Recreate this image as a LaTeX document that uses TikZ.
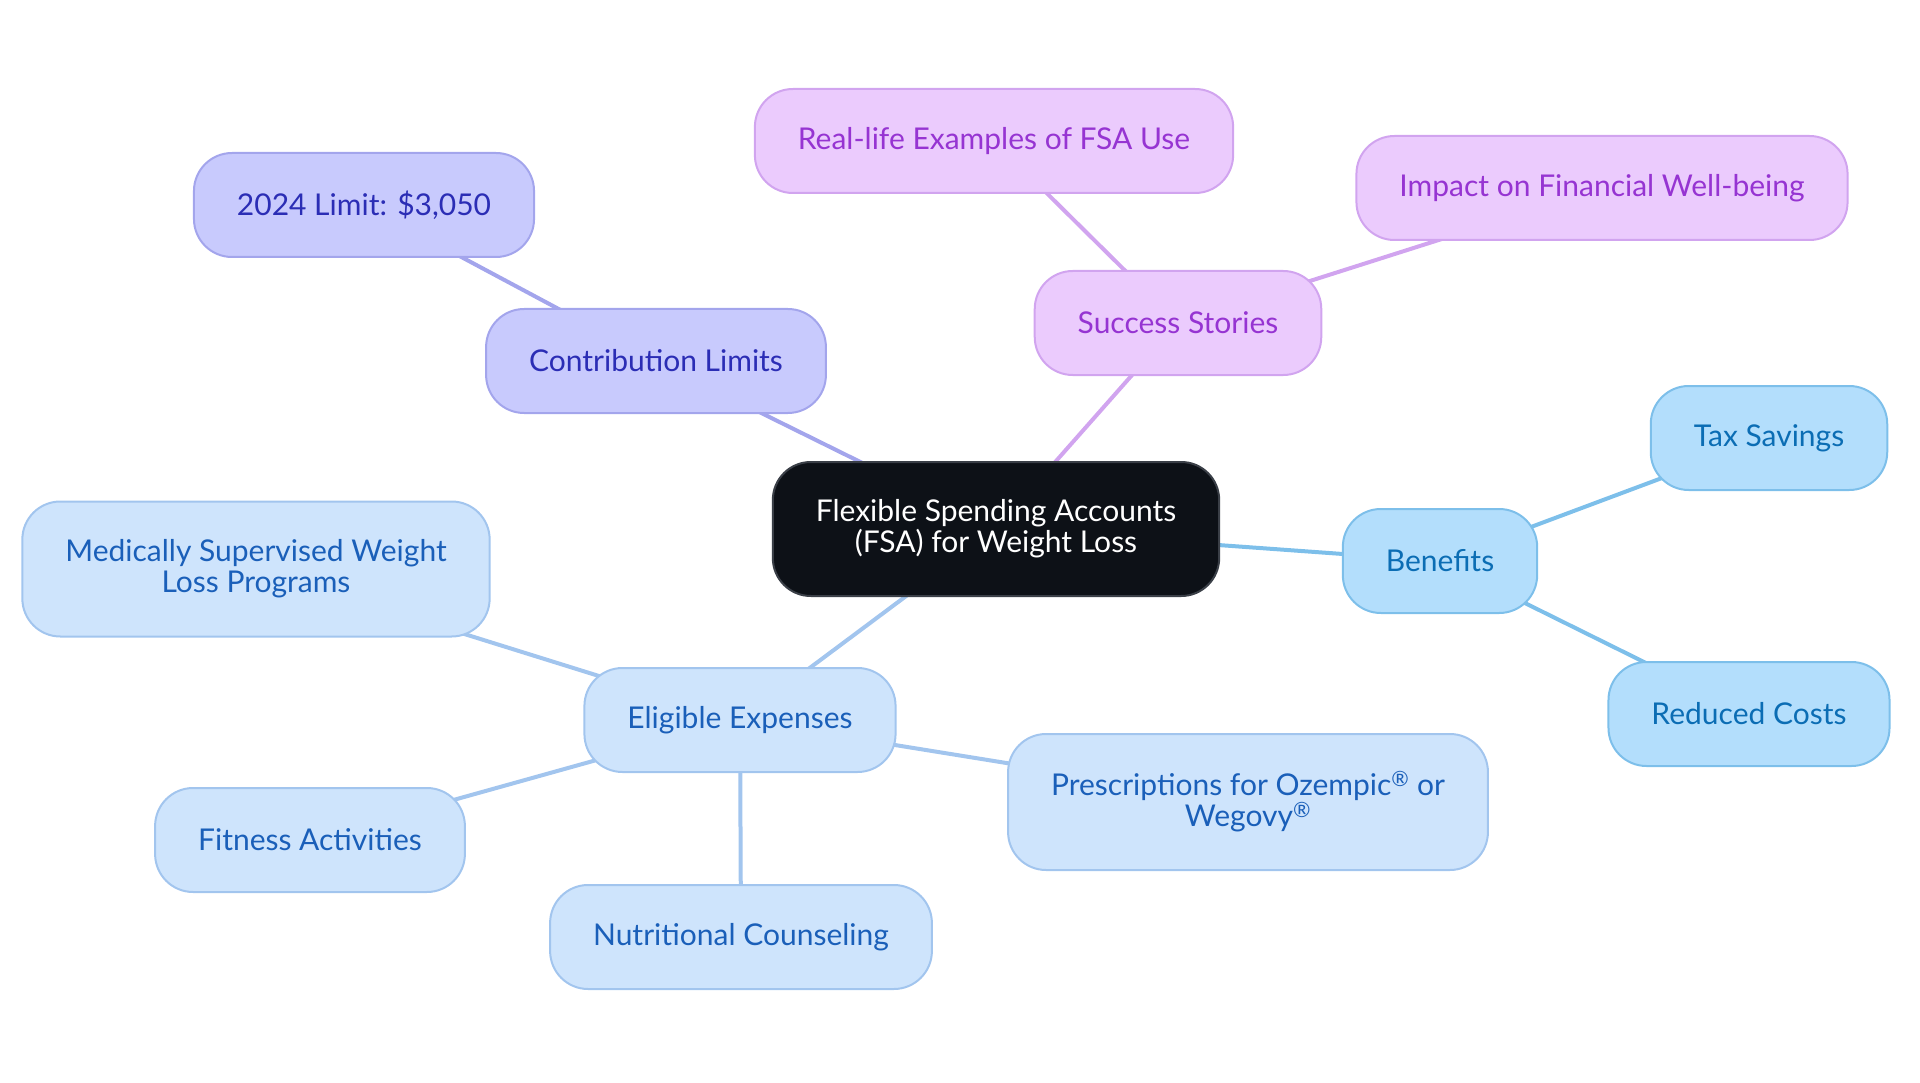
\documentclass[tikz,border=0pt]{standalone}
\usepackage{fontspec}
\setmainfont{Lato}
\usetikzlibrary{backgrounds}

\definecolor{rootfill}{HTML}{0D1117}
\definecolor{rootline}{HTML}{3A3F47}
\definecolor{limfill}{HTML}{C8CAFD}
\definecolor{limline}{HTML}{A3A5EC}
\definecolor{limtext}{HTML}{2B2DB5}
\definecolor{storyfill}{HTML}{EBCBFD}
\definecolor{storyline}{HTML}{D1A4EF}
\definecolor{storytext}{HTML}{9634D2}
\definecolor{benfill}{HTML}{B3DEFC}
\definecolor{benline}{HTML}{7DBFEA}
\definecolor{bentext}{HTML}{0B6DB4}
\definecolor{expfill}{HTML}{CEE4FC}
\definecolor{expline}{HTML}{A2C5EE}
\definecolor{exptext}{HTML}{1A5FB9}

\tikzset{
  box/.style={rounded corners=38pt, line width=2pt, inner xsep=43pt, minimum height=104pt,
    align=center, font=\fontsize{30}{31}\selectfont},
  rootbox/.style={box, fill=rootfill, draw=rootline, text=white, minimum height=134pt},
  limbox/.style={box, fill=limfill, draw=limline, text=limtext},
  storybox/.style={box, fill=storyfill, draw=storyline, text=storytext},
  benbox/.style={box, fill=benfill, draw=benline, text=bentext},
  expbox/.style={box, fill=expfill, draw=expline, text=exptext},
  link/.style={line width=4pt}
}

\begin{document}
\begin{tikzpicture}[x=1pt, y=-1pt]
  \useasboundingbox (0,0) rectangle (1920,1083);
  % centre
  \node[rootbox] (fsa) at (996,529) {Flexible Spending Accounts\\(FSA) for Weight Loss};
  % contribution limits
  \node[limbox] (limits) at (656,361) {Contribution Limits};
  \node[limbox] (cap) at (364,205) {2024 Limit: \$3,050};
  % success stories
  \node[storybox] (stories) at (1178,323) {Success Stories};
  \node[storybox] (reallife) at (994,141) {Real-life Examples of FSA Use};
  \node[storybox] (impact) at (1602,188) {Impact on Financial Well-being};
  % benefits
  \node[benbox] (benefits) at (1440,561) {Benefits};
  \node[benbox] (tax) at (1769,438) {Tax Savings};
  \node[benbox] (reduced) at (1749,714) {Reduced Costs};
  % eligible expenses
  \node[expbox] (eligible) at (740,720) {Eligible Expenses};
  \node[expbox, minimum height=135pt] (medical) at (256,569) {Medically Supervised Weight\\Loss Programs};
  \node[expbox] (fitness) at (310,840) {Fitness Activities};
  \node[expbox] (nutrition) at (741,937) {Nutritional Counseling};
  \node[expbox, minimum height=136pt] (rx) at (1248,802) {Prescriptions for Ozempic\textsuperscript{®} or\\Wegovy\textsuperscript{®}};

  \begin{scope}[on background layer]
    \draw[link, limline] (fsa.center) -- (limits.center) -- (cap.center);
    \draw[link, storyline] (fsa.center) -- (stories.center) -- (reallife.center);
    \draw[link, storyline] (stories.center) -- (impact.center);
    \draw[link, benline] (fsa.center) -- (benefits.center) -- (tax.center);
    \draw[link, benline] (benefits.center) -- (reduced.center);
    \draw[link, expline] (fsa.center) -- (eligible.center) -- (medical.center);
    \draw[link, expline] (eligible.center) -- (fitness.center);
    \draw[link, expline] (eligible.center) -- (nutrition.center);
    \draw[link, expline] (eligible.center) -- (rx.center);
  \end{scope}
\end{tikzpicture}
\end{document}
